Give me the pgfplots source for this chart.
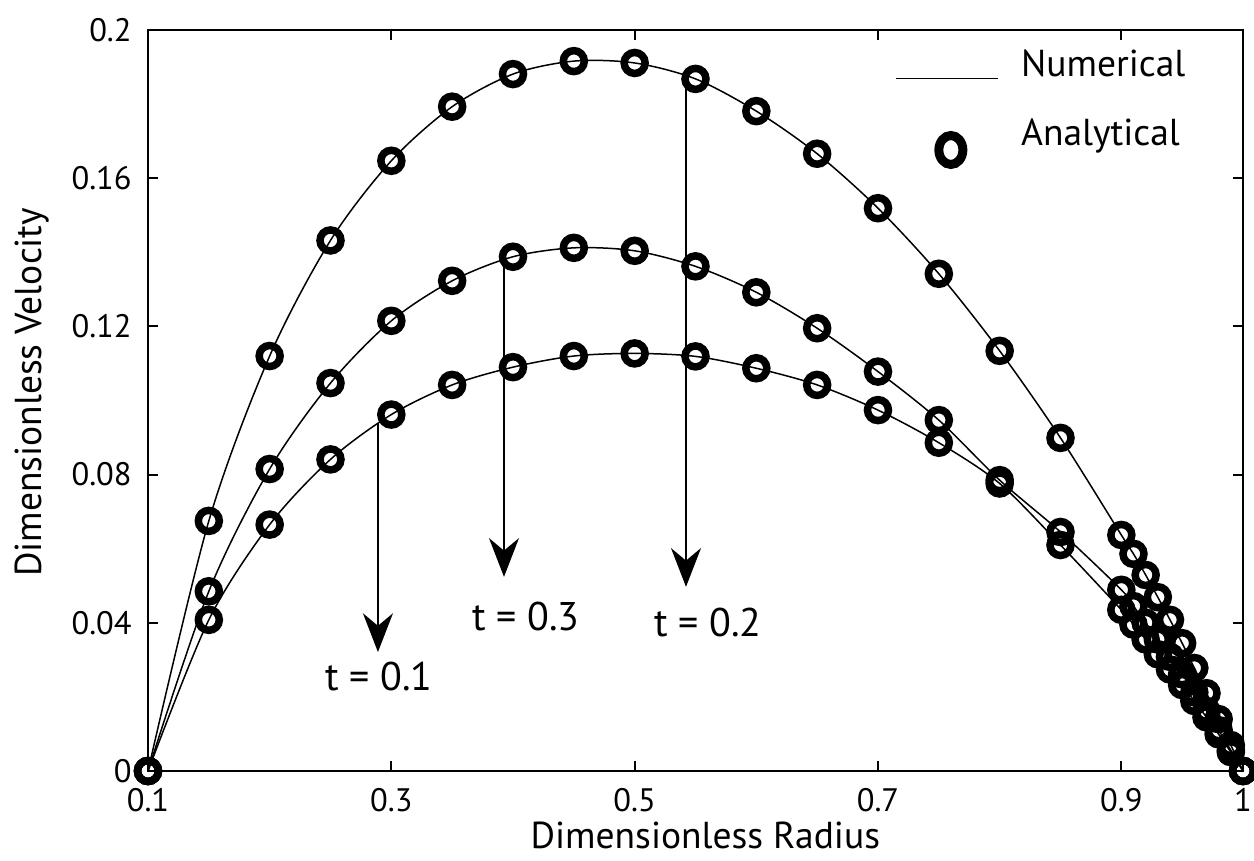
\documentclass[border=0pt]{standalone}
\usepackage{fontspec}
\setmainfont{PT Sans}
\usepackage{pgfplots}
\pgfplotsset{compat=1.18}
\usepackage{pgfplotstable}
\usetikzlibrary{arrows.meta}

% Velocity profiles across the gap: radius vs. velocity at three times
\pgfplotstableread{
r      u
0.10   0
0.15   0.0675
0.20   0.1120
0.25   0.1432
0.30   0.1647
0.35   0.1793
0.40   0.1881
0.45   0.1916
0.50   0.1911
0.55   0.1868
0.60   0.1781
0.65   0.1666
0.70   0.1519
0.75   0.1342
0.80   0.1134
0.85   0.0899
0.90   0.0637
0.91   0.0586
0.92   0.0529
0.93   0.0469
0.94   0.0408
0.95   0.0345
0.96   0.0278
0.97   0.0210
0.98   0.0140
0.99   0.0070
1.00   0
}\tTwo

\pgfplotstableread{
r      u
0.10   0
0.15   0.0485
0.20   0.0815
0.25   0.1047
0.30   0.1215
0.35   0.1323
0.40   0.1388
0.45   0.1412
0.50   0.1404
0.55   0.1362
0.60   0.1292
0.65   0.1195
0.70   0.1078
0.75   0.0947
0.80   0.0785
0.85   0.0645
0.90   0.0489
0.91   0.0445
0.92   0.0400
0.93   0.0355
0.94   0.0308
0.95   0.0261
0.96   0.0212
0.97   0.0162
0.98   0.0110
0.99   0.0056
1.00   0
}\tThree

\pgfplotstableread{
r      u
0.10   0
0.15   0.0408
0.20   0.0665
0.25   0.0841
0.30   0.0962
0.35   0.1042
0.40   0.1090
0.45   0.1120
0.50   0.1127
0.55   0.1119
0.60   0.1087
0.65   0.1042
0.70   0.0974
0.75   0.0886
0.80   0.0776
0.85   0.0610
0.90   0.0435
0.91   0.0395
0.92   0.0355
0.93   0.0315
0.94   0.0274
0.95   0.0232
0.96   0.0189
0.97   0.0145
0.98   0.0099
0.99   0.0051
1.00   0
}\tOne

\begin{document}
\begin{tikzpicture}
\useasboundingbox (-59.2pt,-36pt) rectangle (442.4pt,308.4pt);
\begin{axis}[
  scale only axis,
  width=438pt, height=296.4pt,
  xmin=0.1, xmax=1, ymin=0, ymax=0.2,
  clip=false,
  xtick={0.1,0.3,0.5,0.7,0.9,1},
  xticklabels={0.1,0.3,0.5,0.7,0.9,1},
  ytick={0,0.04,0.08,0.12,0.16,0.2},
  yticklabels={0,0.04,0.08,0.12,0.16,0.2},
  tick align=inside,
  major tick length=4pt,
  axis line style={line width=0.8pt},
  every tick/.style={black, line width=0.8pt},
  ticklabel style={font=\fontsize{13}{15}\selectfont},
  xticklabel style={yshift=-3.5pt},
  yticklabel style={xshift=-3pt},
  xlabel={Dimensionless Radius},
  ylabel={Dimensionless Velocity},
  label style={font=\fontsize{15}{18}\selectfont},
  xlabel style={at={(axis description cs:0.509,-0.087)}, anchor=center},
  ylabel style={at={(axis description cs:-0.106,0.511)}, anchor=center},
  legend style={draw=none, fill=none, at={(axis description cs:0.675,0.988)},
    anchor=north west, font=\fontsize{15}{18}\selectfont, row sep=11.5pt,
    /tikz/every odd column/.append style={column sep=7pt}},
  legend cell align=left,
]
% numerical solutions (lines)
\addplot[black, line width=0.6pt, smooth, forget plot] table[x=r,y=u] {\tOne};
\addplot[black, line width=0.6pt, smooth, forget plot] table[x=r,y=u] {\tTwo};
\addplot[black, line width=0.6pt, smooth, forget plot] table[x=r,y=u] {\tThree};
% analytical solutions (rings)
\addplot[only marks, mark=o, mark size=4.2pt, mark options={black, line width=3pt}, forget plot] table[x=r,y=u] {\tOne};
\addplot[only marks, mark=o, mark size=4.2pt, mark options={black, line width=3pt}, forget plot] table[x=r,y=u] {\tTwo};
\addplot[only marks, mark=o, mark size=4.2pt, mark options={black, line width=3pt}, forget plot] table[x=r,y=u] {\tThree};

\addlegendimage{legend image code/.code={\draw[black, line width=0.6pt] (0pt,-5.5pt) -- (40.8pt,-5.5pt);}}
\addlegendentry{Numerical}
\addlegendimage{legend image code/.code={\draw[black, line width=3.6pt] (22pt,-6.5pt) ellipse (4.8pt and 5.8pt);}}
\addlegendentry{Analytical}

% time annotations
\draw[line width=0.6pt, -{Stealth[length=15.5pt, width=12pt, inset=5pt]}] (axis cs:0.289,0.0939) -- (axis cs:0.289,0.0321);
\draw[line width=0.6pt, -{Stealth[length=15.5pt, width=12pt, inset=5pt]}] (axis cs:0.3926,0.1375) -- (axis cs:0.3926,0.0524);
\draw[line width=0.6pt, -{Stealth[length=15.5pt, width=12pt, inset=5pt]}] (axis cs:0.5422,0.1866) -- (axis cs:0.5422,0.0497);
\node[font=\fontsize{16}{19}\selectfont] at (axis cs:0.2899,0.0254) {t = 0.1};
\node[font=\fontsize{16}{19}\selectfont] at (axis cs:0.4107,0.0416) {t = 0.3};
\node[font=\fontsize{16}{19}\selectfont] at (axis cs:0.5603,0.0402) {t = 0.2};
\end{axis}
\end{tikzpicture}
\end{document}
